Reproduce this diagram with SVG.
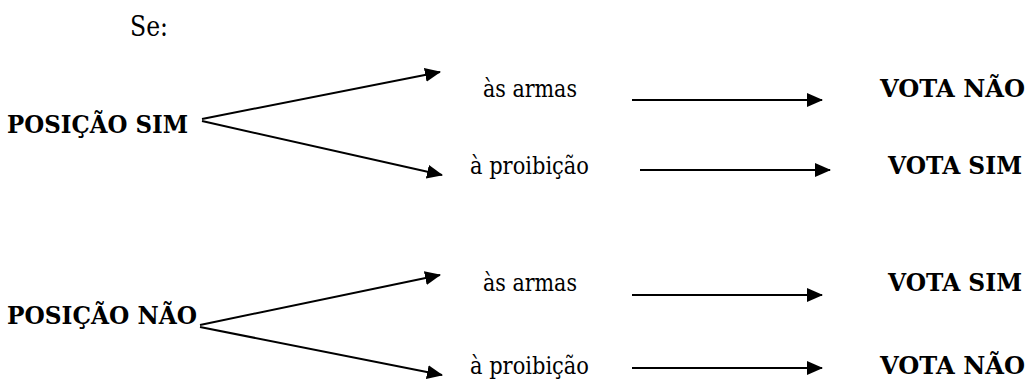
<svg xmlns="http://www.w3.org/2000/svg" width="1029" height="380" viewBox="0 0 1029 380">
<style>
text{font-family:"DejaVu Serif","Liberation Serif",serif;font-size:24px;fill:#000}
.b{font-weight:bold}
.se{font-size:27px}
.c{stroke:#000;stroke-width:2;fill:none;marker-end:url(#ah)}
</style>
<defs>
<marker id="ah" viewBox="0 0 16 14" markerWidth="16" markerHeight="14" markerUnits="userSpaceOnUse" refX="15" refY="7" orient="auto">
<path d="M0,0 L16,7 L0,14 z" fill="#000"/>
</marker>
</defs>
<rect width="1029" height="380" fill="#fff"/>
<g id="intro"><text class="se" x="130" y="36" textLength="38" lengthAdjust="spacingAndGlyphs">Se:</text></g>
<g id="posicao-sim"><text class="b" x="7" y="133" textLength="181" lengthAdjust="spacingAndGlyphs">POSIÇÃO SIM</text></g>
<g id="armas-1"><text x="483" y="97" textLength="94" lengthAdjust="spacingAndGlyphs">às armas</text></g>
<g id="proibicao-1"><text x="470" y="174" textLength="119" lengthAdjust="spacingAndGlyphs">à proibição</text></g>
<g id="vota-nao-1"><text class="b" x="880" y="97" textLength="145" lengthAdjust="spacingAndGlyphs">VOTA NÃO</text></g>
<g id="vota-sim-1"><text class="b" x="888" y="174" textLength="134" lengthAdjust="spacingAndGlyphs">VOTA SIM</text></g>
<g id="posicao-nao"><text class="b" x="7" y="324" textLength="190" lengthAdjust="spacingAndGlyphs">POSIÇÃO NÃO</text></g>
<g id="armas-2"><text x="483" y="291" textLength="94" lengthAdjust="spacingAndGlyphs">às armas</text></g>
<g id="proibicao-2"><text x="470" y="374" textLength="119" lengthAdjust="spacingAndGlyphs">à proibição</text></g>
<g id="vota-sim-2"><text class="b" x="888" y="291" textLength="134" lengthAdjust="spacingAndGlyphs">VOTA SIM</text></g>
<g id="vota-nao-2"><text class="b" x="880" y="374" textLength="145" lengthAdjust="spacingAndGlyphs">VOTA NÃO</text></g>
<g id="connectors">
<path class="c" d="M202,119 L440,72"/>
<path class="c" d="M202,121 L442,175"/>
<path class="c" d="M632,100 L822,100"/>
<path class="c" d="M640,170 L830,170"/>
<path class="c" d="M200,325 L440,275"/>
<path class="c" d="M200,327 L442,375"/>
<path class="c" d="M632,295 L822,295"/>
<path class="c" d="M632,368 L822,368"/>
</g>
</svg>
